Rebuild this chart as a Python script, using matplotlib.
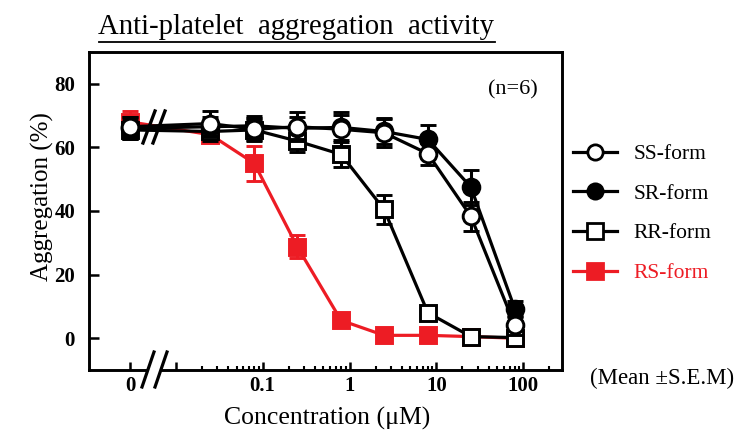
import numpy as np
import matplotlib
matplotlib.use("Agg")
import matplotlib.pyplot as plt
from matplotlib.lines import Line2D
from matplotlib.patches import Rectangle

plt.rcParams['font.family'] = ['Liberation Serif', 'DejaVu Serif']
plt.rcParams['mathtext.fontset'] = 'stix'

# ---------------- data ----------------
conc = [0.025, 0.08, 0.25, 0.8, 2.5, 8, 25, 80]   # uM (the control "0" is plotted at the left)
x_tick_labels = ['0', '', '0.1', '1', '10', '100']
y_ticks = [0, 20, 40, 60, 80]

ss_mean = [66.5, 67.5, 65.7, 66.5, 65.7, 64.6, 58.0, 38.3, 4.1]
ss_sem  = [3.0, 4.0, 3.5, 4.5, 5.5, 4.5, 3.5, 4.5, 3.0]
sr_mean = [66.0, 66.5, 66.8, 66.0, 66.3, 65.0, 62.5, 47.5, 9.3]
sr_sem  = [3.5, 3.0, 3.0, 3.5, 4.0, 4.0, 4.5, 5.5, 2.5]
rr_mean = [65.5, 65.0, 65.5, 62.0, 57.8, 40.5, 8.0, 0.5, 0.2]
rr_sem  = [3.0, 3.0, 3.5, 3.5, 4.0, 4.5, 1.0, 0.5, 0.5]
rs_mean = [68.0, 64.0, 55.0, 28.8, 5.6, 0.9, 0.9, 0.5, 0.0]
rs_sem  = [3.5, 2.0, 5.5, 3.5, 1.0, 0.5, 0.5, 0.3, 0.3]

RED = '#ED1C24'
ZERO_POS = 0.003   # plotting position of the control on the log axis

xs = [ZERO_POS] + conc

fig = plt.figure(figsize=(7.37, 4.34), dpi=100)
W, H = 737, 434
L, R, T, B = 89, 562, 52, 370
ax = fig.add_axes([L / W, 1 - B / H, (R - L) / W, (B - T) / H])

series = [
    ('RS-form', rs_mean, rs_sem, 's', RED, RED, 1),
    ('RR-form', rr_mean, rr_sem, 's', 'black', 'white', 2),
    ('SR-form', sr_mean, sr_sem, 'o', 'black', 'black', 3),
    ('SS-form', ss_mean, ss_sem, 'o', 'black', 'white', 4),
]
for name, m, e, mk, col, fc, z in series:
    ax.errorbar(xs, m, yerr=e, color=col, lw=2.3, marker=mk, ms=12,
                mfc=fc, mec=col, mew=2.1, capsize=6, capthick=2.5,
                elinewidth=2.2, zorder=z)

ax.set_xscale('log')
ax.set_xlim(0.001, 280)
ax.set_ylim(-10, 90)
ax.set_xticks([ZERO_POS, 0.01, 0.1, 1, 10, 100])
ax.set_xticklabels(x_tick_labels)
minors = [k * 10.0 ** e for e in range(-2, 3) for k in range(2, 10)]
minors = [v for v in minors if v < 280]
ax.set_xticks(minors, minor=True)
ax.xaxis.set_minor_formatter(matplotlib.ticker.NullFormatter())
ax.set_yticks(y_ticks)
ax.yaxis.set_minor_locator(matplotlib.ticker.NullLocator())

ax.tick_params(axis='both', which='major', direction='in', width=1.8,
               labelsize=15)
ax.tick_params(axis='x', which='major', length=6, pad=4)
ax.tick_params(axis='y', which='major', length=7, pad=10)
ax.tick_params(axis='x', which='minor', direction='in', length=3, width=1.5)
ax.tick_params(top=False, right=False, which='both')
for lab in ax.get_xticklabels() + ax.get_yticklabels():
    lab.set_fontweight('bold')
for sp in ax.spines.values():
    sp.set_linewidth(2.1)


def fx(px):
    return (px - L) / (R - L)


def fy(py):
    return (B - py) / (B - T)


# axis break on the x axis
ax.add_patch(Rectangle((fx(147), fy(374)), fx(161) - fx(147), fy(365) - fy(374),
                       transform=ax.transAxes, facecolor='white',
                       edgecolor='none', clip_on=False, zorder=10))
for x0 in (142, 155):
    ax.plot([fx(x0), fx(x0 + 12)], [fy(387), fy(352)], transform=ax.transAxes,
            color='black', lw=2.3, clip_on=False, zorder=11)
# break on the data lines
for x0 in (143, 153):
    ax.plot([fx(x0), fx(x0 + 12)], [fy(143), fy(111)], transform=ax.transAxes,
            color='black', lw=2.4, clip_on=False, zorder=11)

ax.text(fx(513), fy(90), '(n=6)', transform=ax.transAxes, ha='center',
        va='center', fontsize=16)

# labels
fig.text(42 / W, 1 - 197 / H, 'Aggregation (%)', rotation=90, ha='center',
         va='center', fontsize=18)
fig.text(327 / W, 1 - 418 / H, 'Concentration (μM)', ha='center',
         va='center', fontsize=18.5)
fig.text(590 / W, 1 - 378 / H, '(Mean ±S.E.M)', ha='left', va='center',
         fontsize=16.5)

title = fig.text(296.5 / W, 1 - 26.5 / H, 'Anti-platelet  aggregation  activity',
                 ha='center', va='center', fontsize=20.7)

# legend
handles = []
labels = []
for name, m, e, mk, col, fc, z in series[::-1]:
    handles.append(Line2D([], [], color=col, lw=2.3, marker=mk, ms=11,
                          mfc=fc, mec=col, mew=2.0))
    labels.append(name)
leg = fig.legend(handles, labels, loc='upper left',
                 bbox_to_anchor=(573 / W, 1 - 144 / H), frameon=False,
                 fontsize=15.5, handlelength=2.05, handletextpad=0.75,
                 labelspacing=0.91, borderpad=0, borderaxespad=0)
for t in leg.get_texts():
    if t.get_text() == 'RS-form':
        t.set_color(RED)

# underline title
fig.canvas.draw()
bb = title.get_window_extent()
yline = 1 - 41.5 / H
fig.add_artist(Line2D([bb.x0 / W, bb.x1 / W], [yline, yline],
                      transform=fig.transFigure, color='black', lw=1.3))

fig.savefig('out.png', dpi=100)
